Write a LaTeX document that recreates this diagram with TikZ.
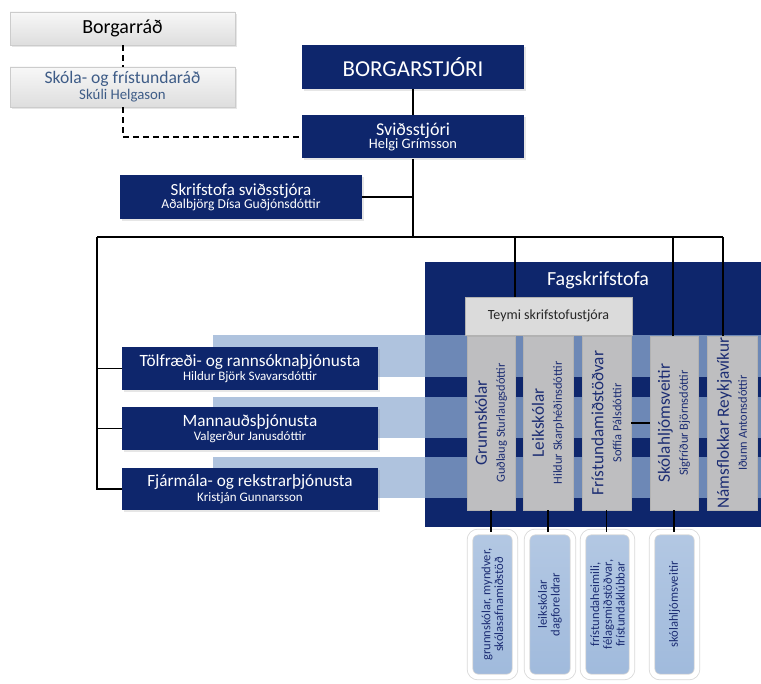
\documentclass[tikz,border=0pt]{standalone}
\usepackage{fontspec}
\usetikzlibrary{shadows}
\setmainfont{Carlito}
\lineskiplimit=-10pt
\definecolor{navy}{RGB}{14,38,108}
\definecolor{bandblue}{RGB}{145,173,210}
\definecolor{colgray}{RGB}{190,190,192}
\definecolor{colblue}{RGB}{28,45,115}
\definecolor{subblue}{RGB}{160,186,220}
\definecolor{steel}{RGB}{62,92,135}
\begin{document}
\begin{tikzpicture}[x=0.5pt,y=-0.5pt,
    navybox/.style={fill=navy,text=white,align=center,inner sep=0pt,drop shadow={opacity=0.2,shadow xshift=0.8pt,shadow yshift=-0.8pt}},
    graybox/.style={top color=gray!6,bottom color=gray!26,draw=gray!40,align=center,inner sep=0pt,drop shadow={opacity=0.2,shadow xshift=0.8pt,shadow yshift=-0.8pt}},
    column/.style={fill=colgray,draw=gray!60,text=colblue,rotate=90,align=center,inner sep=0pt,minimum width=87pt,font=\fontsize{6.2}{9}\selectfont},
    subbox/.style={top color=subblue!80,bottom color=subblue,draw=gray!30,double=white,double distance=2.4pt,rounded corners=4pt,text=colblue,rotate=90,align=center,inner sep=0pt,minimum width=72.5pt,font=\fontsize{6.3}{6.4}\selectfont},
    band/.style={fill=bandblue,fill opacity=0.73},
    link/.style={line width=0.75pt},
    dashlink/.style={line width=1pt,dash pattern=on 3pt off 2pt}]
    \useasboundingbox (0,0) rectangle (761,684);
    \node[graybox,minimum width=112.5pt,minimum height=16.5pt,font=\fontsize{10}{11}\selectfont] (borgarrad) at (122.5,28.5) {Borgarráð};
    \node[graybox,minimum width=112.5pt,minimum height=20pt,text=steel,font=\fontsize{7.4}{8}\selectfont] (skolarad) at (122.5,87) {{\fontsize{8.8}{10}\selectfont Skóla- og frístundaráð}\\Skúli Helgason};
    \node[navybox,minimum width=111pt,minimum height=22pt,font=\fontsize{11.4}{12}\selectfont] (borgarstjori) at (413,67) {BORGARSTJÓRI};
    \node[navybox,minimum width=111pt,minimum height=21.5pt,font=\fontsize{7.2}{6.7}\selectfont] (svid) at (413,137) {{\fontsize{9}{10}\selectfont Sviðsstjóri}\\Helgi Grímsson};
    \node[navybox,minimum width=121pt,minimum height=22pt,font=\fontsize{6.8}{6.5}\selectfont] (skrif) at (241,197) {{\fontsize{8.5}{10}\selectfont Skrifstofa sviðsstjóra}\\Aðalbjörg Dísa Guðjónsdóttir};
    \node[fill=navy,inner sep=0pt,minimum width=168pt,minimum height=132.5pt] (fagbox) at (593,394.5) {};
    \node[text=white,font=\fontsize{10}{11}\selectfont] (fag) at (598,280) {Fagskrifstofa};
    \fill[band] (213,335) rectangle (761,377);
    \fill[band] (213,397) rectangle (761,438);
    \fill[band] (213,457) rectangle (761,498);
    \draw[dashlink] (borgarrad) -- (skolarad);
    \draw[dashlink] (skolarad) |- (svid);
    \draw[link] (borgarstjori) -- (svid);
    \coordinate (hub) at (413,237);
    \coordinate (hleft) at (97,237);
    \coordinate (hteymi) at (515,237);
    \coordinate (hskola) at (673,237);
    \coordinate (hright) at (723,237);
    \draw[link] (svid) -- (hub);
    \draw[link] (skrif) -- (skrif -| hub);
    \draw[link] (hleft) -- (hright);
    \node[fill=gray!28,draw=gray!60,text=black!85,inner sep=0pt,minimum width=83.5pt,minimum height=19pt,font=\fontsize{7}{8}\selectfont] (teymi) at (548.5,316) {Teymi skrifstofustjóra};
    \node[column,minimum height=24pt] (grunn) at (491,423) {{\fontsize{8.6}{10}\selectfont Grunnskólar}\\Guðlaug Sturlaugsdóttir};
    \node[column,minimum height=25pt] (leik) at (548,423) {{\fontsize{8.6}{10}\selectfont Leikskólar}\\Hildur Skarphéðinsdóttir};
    \node[column,minimum height=24.5pt] (frist) at (606.5,423) {{\fontsize{8.6}{10}\selectfont Frístundamiðstöðvar}\\Soffía Pálsdóttir};
    \node[column,minimum height=24pt] (skolahl) at (674,423) {{\fontsize{8.6}{10}\selectfont Skólahljómsveitir}\\Sigfríður Björnsdóttir};
    \node[column,minimum height=25pt] (namsfl) at (732,423) {{\fontsize{8.6}{10}\selectfont Námsflokkar Reykjavíkur}\\Iðunn Antonsdóttir};
    \draw[link] (hteymi) -- (hteymi |- teymi.north);
    \draw[link] (hskola) -- (hskola |- skolahl.east);
    \draw[link] (hright) -- (hright |- namsfl.east);
    \draw[link] (frist) -- (skolahl);
    \node[navybox,minimum width=128pt,minimum height=21.5pt,font=\fontsize{6.5}{7.2}\selectfont] (tolfr) at (250,368.5) {{\fontsize{8.6}{10}\selectfont Tölfræði- og rannsóknaþjónusta}\\Hildur Björk Svavarsdóttir};
    \node[navybox,minimum width=128pt,minimum height=21.5pt,font=\fontsize{6.5}{7.2}\selectfont] (mannaud) at (250,428.5) {{\fontsize{8.6}{10}\selectfont Mannauðsþjónusta}\\Valgerður Janusdóttir};
    \node[navybox,minimum width=128pt,minimum height=21pt,font=\fontsize{6.5}{7.2}\selectfont] (fjarm) at (250,489) {{\fontsize{8.6}{10}\selectfont Fjármála- og rekstrarþjónusta}\\Kristján Gunnarsson};
    \draw[link] (hleft) |- (fjarm);
    \draw[link] (hleft |- tolfr) -- (tolfr);
    \draw[link] (hleft |- mannaud) -- (mannaud);
    \node[subbox,minimum height=22.5pt] (grunnsub) at (492.5,604.5) {grunnskólar, myndver,\\skólasafnamiðstöð};
    \node[subbox,minimum height=23pt] (leiksub) at (550,604.5) {leikskólar\\dagforeldrar};
    \node[subbox,minimum height=24.5pt] (fristsub) at (607.5,604.5) {frístundaheimili,\\félagsmiðstöðvar,\\frístundaklúbbar};
    \node[subbox,minimum height=22.5pt] (skolasub) at (674.5,604.5) {skólahljómsveitir};
    \draw[link] (grunn.west) -- (grunn.west |- grunnsub.east);
    \draw[link] (leik.west) -- (leik.west |- leiksub.east);
    \draw[link] (frist.west) -- (frist.west |- fristsub.east);
    \draw[link] (skolahl.west) -- (skolahl.west |- skolasub.east);
\end{tikzpicture}
\end{document}
